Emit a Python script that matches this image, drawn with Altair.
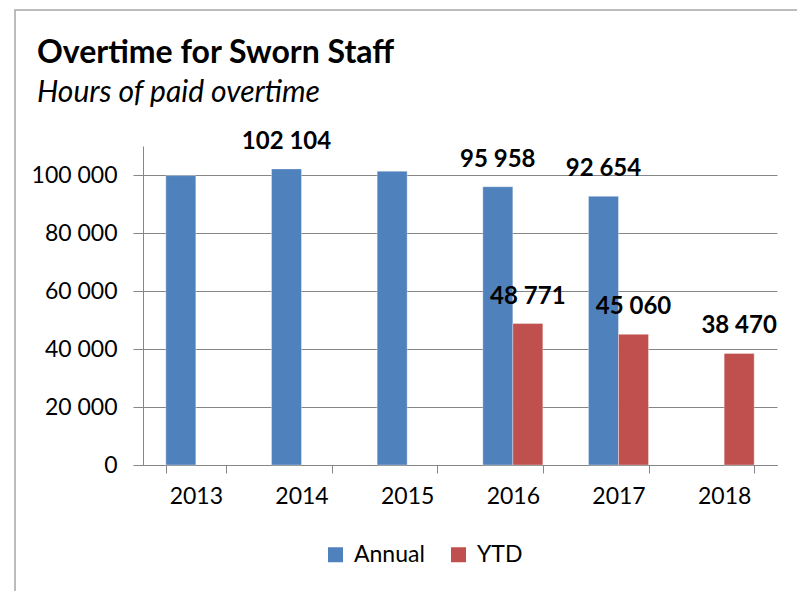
import altair as alt
import pandas as pd

# ---- data ----
years = ["2013", "2014", "2015", "2016", "2017", "2018"]
series = ["Annual", "YTD"]
colors = ["#4F81BD", "#C0504D"]

annual_years = ["2013", "2014", "2015", "2016", "2017"]
annual_values = [99800, 102104, 101300, 95958, 92654]
annual_labeled = [False, True, False, True, True]

ytd_years = ["2016", "2017", "2018"]
ytd_values = [48771, 45060, 38470]
ytd_labeled = [True, True, True]

y_ticks = [0, 20000, 40000, 60000, 80000, 100000]

title_text = "Overtime for Sworn Staff"
subtitle_text = "Hours of paid overtime"


def fmt(v):
    return f"{v:,}".replace(",", " ")


rows = []
for yr, v, lab in zip(annual_years, annual_values, annual_labeled):
    rows.append({"year": yr, "series": "Annual", "value": v, "label": fmt(v) if lab else ""})
for yr, v, lab in zip(ytd_years, ytd_values, ytd_labeled):
    rows.append({"year": yr, "series": "YTD", "value": v, "label": fmt(v) if lab else ""})
df = pd.DataFrame(rows)

FONT = "Lato"
GRID = "#868686"

x_enc = alt.X(
    "year:N",
    sort=years,
    scale=alt.Scale(domain=years, paddingInner=0.432, paddingOuter=0.216),
    axis=alt.Axis(
        title=None, labelAngle=0, tickBand="extent", tickSize=8, labelPadding=12,
        labelFontSize=23, labelFont=FONT, labelColor="black",
        domainColor=GRID, tickColor=GRID, grid=False,
    ),
)
xo_enc = alt.XOffset(
    "series:N", sort=series,
    scale=alt.Scale(domain=series, paddingInner=0, paddingOuter=0),
)
y_enc = alt.Y(
    "value:Q",
    scale=alt.Scale(domain=[0, 110000], nice=False),
    axis=alt.Axis(
        title=None, values=y_ticks,
        labelExpr="replace(format(datum.value, ','), ',', ' ')",
        tickSize=10, labelPadding=16, labelFontSize=23, labelFont=FONT,
        labelColor="black", domainColor=GRID, tickColor=GRID,
        grid=True, gridColor=GRID, gridWidth=1,
    ),
)
color_enc = alt.Color(
    "series:N",
    scale=alt.Scale(domain=series, range=colors),
    legend=alt.Legend(
        title=None, orient="none", direction="horizontal",
        legendX=181, legendY=397, padding=0,
        symbolType="square", symbolSize=225, symbolStrokeWidth=0,
        labelFontSize=23, labelFont=FONT, labelColor="black",
        labelOffset=7, columnPadding=22,
    ),
)

bars = alt.Chart(df).mark_bar(stroke="#FFFFFF", strokeOpacity=0.35, strokeWidth=1).encode(
    x=x_enc, xOffset=xo_enc, y=y_enc, color=color_enc
)

labels = alt.Chart(df).mark_text(
    baseline="alphabetic", dy=-20, fontSize=24, fontWeight="bold", font=FONT, color="black"
).encode(x=x_enc, xOffset=xo_enc, y=y_enc, text="label:N")

border = alt.Chart(pd.DataFrame({"a": [0]})).mark_rect(
    fillOpacity=0, stroke="#A6A6A6", strokeWidth=1.5
).encode(x=alt.value(-128), x2=alt.value(660), y=alt.value(-136), y2=alt.value(470))

chart = (
    alt.layer(border, bars, labels)
    .properties(
        width=634,
        height=319,
        title=alt.TitleParams(
            text=title_text, subtitle=subtitle_text,
            anchor="start", frame="group", dx=-106, offset=-100,
            font=FONT, fontSize=32, fontWeight="bold", color="black",
            subtitleFont=FONT, subtitleFontSize=30, subtitleFontStyle="italic",
            subtitleColor="black", subtitlePadding=8,
        ),
        autosize=alt.AutoSizeParams(type="none"),
        padding={"left": 135, "top": 138, "right": 20, "bottom": 126},
    )
    .configure_view(strokeWidth=0)
)

chart.save("out.html", embed_options={"renderer": "svg", "actions": False})
